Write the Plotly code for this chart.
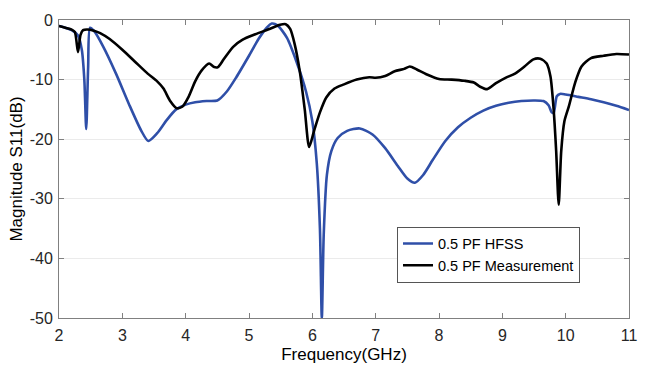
import plotly.graph_objects as go

# HFSS simulation (blue)
hfss_f = [2.0, 2.1, 2.2, 2.3, 2.36, 2.40, 2.43, 2.46, 2.49, 2.55, 2.7, 2.9, 3.1, 3.3, 3.41,
          3.55, 3.7, 3.85, 4.0, 4.15, 4.33, 4.5, 4.65, 4.8, 5.0, 5.15, 5.28, 5.36, 5.45,
          5.6, 5.75, 5.9, 6.0, 6.07, 6.12, 6.15, 6.18, 6.23, 6.3, 6.4, 6.55, 6.75, 6.95,
          7.15, 7.35, 7.5, 7.62, 7.75, 7.9, 8.1, 8.3, 8.5, 8.7, 8.9, 9.1, 9.3, 9.5, 9.65,
          9.73, 9.78, 9.81, 9.86, 9.91, 10.0, 10.2, 10.4, 10.6, 10.8, 11.0]
hfss_db = [-1.0, -1.3, -1.7, -2.6, -5.0, -10.0, -18.3, -8.0, -1.3, -1.8, -4.5, -9.0, -14.0, -18.6, -20.3,
           -19.0, -16.8, -15.0, -14.2, -13.8, -13.6, -13.5, -12.0, -9.6, -6.0, -3.2, -1.3, -0.6, -0.9,
           -3.0, -7.0, -12.0, -17.0, -24.0, -35.0, -50.0, -36.0, -26.0, -22.0, -19.8, -18.6, -18.2, -19.2,
           -21.5, -24.5, -26.6, -27.3, -26.0, -23.5, -20.3, -18.0, -16.4, -15.2, -14.4, -13.9, -13.6, -13.5, -13.6,
           -14.3, -15.5, -15.6, -12.8, -12.4, -12.5, -12.9, -13.3, -13.8, -14.4, -15.1]

# Measurement (black)
meas_f = [2.0, 2.1, 2.2, 2.25, 2.30, 2.34, 2.38, 2.45, 2.55, 2.65, 2.8, 3.0, 3.2, 3.4, 3.55, 3.65,
          3.75, 3.86, 3.95, 4.05, 4.15, 4.25, 4.37, 4.45, 4.51, 4.6, 4.75, 4.9, 5.1, 5.3, 5.49,
          5.58, 5.65, 5.72, 5.8, 5.88, 5.95, 6.03, 6.12, 6.22, 6.35, 6.5, 6.7, 6.9, 7.0, 7.15, 7.3,
          7.45, 7.54, 7.65, 7.8, 8.0, 8.2, 8.4, 8.55, 8.65, 8.76, 8.9, 9.05, 9.2, 9.35, 9.49,
          9.6, 9.7, 9.76, 9.81, 9.85, 9.89, 9.93, 9.98, 10.05, 10.15, 10.25, 10.4, 10.6, 10.8, 11.0]
meas_db = [-1.0, -1.3, -1.6, -2.0, -5.4, -2.5, -1.7, -1.6, -1.8, -2.2, -3.2, -5.0, -7.0, -9.0, -10.3, -11.5,
           -13.5, -14.8, -14.5, -12.8, -10.3, -8.5, -7.3, -7.9, -7.9, -6.6, -4.5, -3.3, -2.4, -1.6, -0.8,
           -0.7, -1.5, -4.0, -8.5, -15.0, -21.3, -18.5, -15.5, -13.0, -11.5, -10.8, -10.0, -9.6, -9.7, -9.4, -8.6,
           -8.2, -7.8, -8.3, -9.1, -9.9, -10.0, -10.2, -10.5, -11.2, -11.6, -10.6, -9.7, -9.0, -7.8, -6.6,
           -6.5, -7.3, -9.5, -15.0, -22.0, -31.0, -22.0, -17.0, -14.5, -10.5, -7.8, -6.4, -6.0, -5.7, -5.8]

x_ticks = [2, 3, 4, 5, 6, 7, 8, 9, 10, 11]
y_ticks = [0, -10, -20, -30, -40, -50]
y_ticktext = ["0", "-10", "-20", "-30", "-40", "-50"]

FONT = "Liberation Sans, Arial"

fig = go.Figure()
fig.add_trace(go.Scatter(x=hfss_f, y=hfss_db, mode="lines", name="0.5 PF HFSS",
                         line=dict(color="#2f4fa8", width=2.6, shape="spline", smoothing=0.7)))
fig.add_trace(go.Scatter(x=meas_f, y=meas_db, mode="lines", name="0.5 PF Measurement",
                         line=dict(color="#000000", width=2.6, shape="spline", smoothing=0.7)))

axis_common = dict(showline=True, linecolor="#808080", linewidth=1, mirror="allticks",
                   ticks="inside", ticklen=5, tickcolor="#808080", zeroline=False,
                   tickfont=dict(family=FONT, size=16, color="#262626"))
fig.update_xaxes(range=[2, 11], tickvals=x_ticks, ticktext=[str(t) for t in x_ticks], showgrid=False,
                 ticklabelstandoff=3,
                 title=dict(text="Frequency(GHz)", font=dict(family=FONT, size=17, color="#000000"),
                            standoff=4),
                 **axis_common)
fig.update_yaxes(range=[-50, 0], tickvals=y_ticks, ticktext=y_ticktext, showgrid=True,
                 gridcolor="#ebebeb", gridwidth=1, ticklabelstandoff=2,
                 title=dict(text="Magnitude S11(dB)", font=dict(family=FONT, size=17, color="#000000"),
                            standoff=2),
                 **axis_common)
fig.update_layout(width=653, height=373, margin=dict(l=59, r=24, t=12, b=55),
                  paper_bgcolor="white", plot_bgcolor="white", showlegend=True,
                  legend=dict(x=0.593, y=0.307, xanchor="left", yanchor="top", bgcolor="white",
                              bordercolor="#555555", borderwidth=1, tracegroupgap=0,
                              font=dict(family=FONT, size=14.5, color="#000000"),
                              itemwidth=30))
fig.write_html("out.html")
